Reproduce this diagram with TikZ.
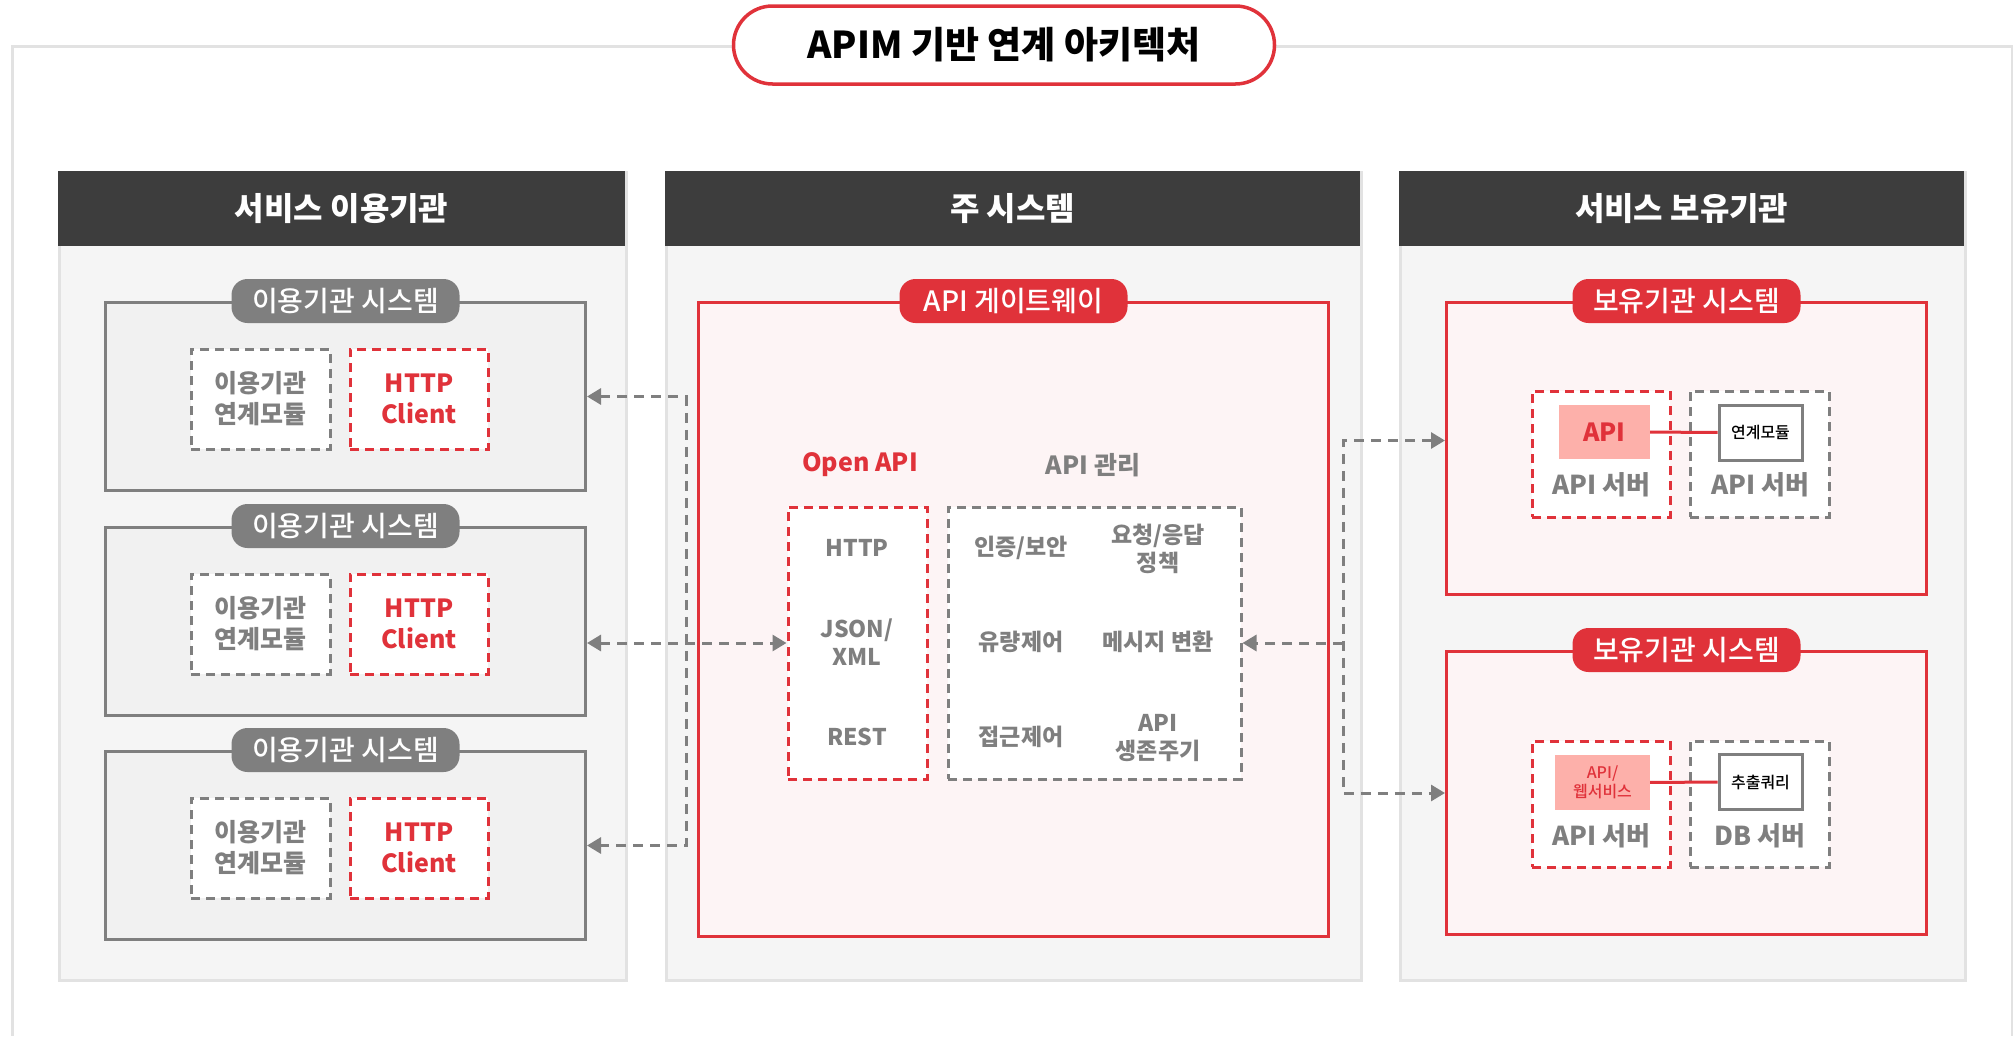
\documentclass[tikz,border=0pt]{standalone}
\usepackage{fontspec}
\setmainfont{Noto Sans CJK KR}
\newfontfamily\medfont{Noto Sans CJK KR Medium}
\usetikzlibrary{arrows.meta}

\definecolor{apired}{HTML}{E0323A}
\definecolor{apigray}{HTML}{7F7F7F}
\definecolor{headdark}{HTML}{3D3D3D}
\definecolor{colbg}{HTML}{F5F5F5}
\definecolor{colline}{HTML}{E2E2E2}
\definecolor{sysbg}{HTML}{F1F1F1}
\definecolor{pinkbg}{HTML}{FDF4F5}
\definecolor{apipink}{HTML}{FDB0AA}

\tikzset{
  colbody/.style={fill=colbg, draw=colline, line width=2.5, anchor=north west, minimum height=808, inner sep=0},
  colhead/.style={fill=headdark, text=white, anchor=north west, inner sep=0, minimum height=75,
    font=\bfseries\fontsize{32}{36}\selectfont},
  titlepill/.style={draw=apired, line width=3.5, fill=white, rounded corners=39, minimum width=541,
    minimum height=78, font=\bfseries\fontsize{37}{42}\selectfont},
  usersys/.style={draw=apigray, fill=sysbg, line width=3, anchor=north west, minimum width=480, minimum height=188},
  holdsys/.style={draw=apired, fill=pinkbg, line width=3, anchor=north west, minimum width=480},
  graypill/.style={fill=apigray, text=white, rounded corners=16, minimum width=228, minimum height=44,
    inner sep=0, font=\medfont\fontsize{28}{30}\selectfont},
  redpill/.style={graypill, fill=apired},
  graydash/.style={draw=apigray, fill=white, line width=3, dash pattern=on 9pt off 6pt, minimum height=100,
    align=center, text=apigray, font=\bfseries\fontsize{25}{31}\selectfont},
  reddash/.style={graydash, draw=apired, text=apired},
  itemtext/.style={align=center, text=apigray, font=\bfseries\fontsize{23}{28}\selectfont},
  grouplabel/.style={font=\bfseries\fontsize{25}{30}\selectfont},
  srvtext/.style={text=apigray, font=\bfseries\fontsize{26}{30}\selectfont},
  pinkbox/.style={fill=apipink, text=apired, inner sep=0, align=center},
  modbox/.style={draw=apigray, fill=white, line width=3, minimum width=83, minimum height=55, inner sep=0,
    font=\medfont\fontsize{16}{18}\selectfont},
  link/.style={draw=apigray, line width=3, dash pattern=on 10pt off 7pt},
  redline/.style={draw=apired, line width=3}
}

\begin{document}
\begin{tikzpicture}[x=1pt, y=-1pt, >={Triangle[length=14pt, width=16pt]}]
	\useasboundingbox (0,0) rectangle (2013,1036);

	% outer frame and title
	\draw[colline, line width=3] (12,1036) -- (12,46) -- (2013,46);
	\draw[colline, line width=2] (2012,46) -- (2012,1036);
	\node[titlepill] (title) at (1004,45) {APIM 기반 연계 아키텍처};

	% the three columns
	\node[colbody, minimum width=567] (ubody) at (58,171) {};
	\node[colhead, minimum width=567] (uhead) at (58,171) {서비스 이용기관};
	\node[colbody, minimum width=695] (mbody) at (665,171) {};
	\node[colhead, minimum width=695] (mhead) at (665,171) {주 시스템};
	\node[colbody, minimum width=565] (hbody) at (1399,171) {};
	\node[colhead, minimum width=565] (hhead) at (1399,171) {서비스 보유기관};

	% user systems
	\foreach \i/\ty in {1/301,2/526,3/750}{
		\node[usersys] (usys\i) at (104,\ty) {};
		\node[graypill] (upill\i) at (usys\i.north) {이용기관 시스템};
		\node[graydash, minimum width=139] (umod\i) at (260.5,\ty+98) {이용기관\\연계모듈};
		\node[reddash, minimum width=138] (uhttp\i) at (419,\ty+98) {HTTP\\Client};
	}

	% API gateway
	\node[draw=apired, fill=pinkbg, line width=3, anchor=north west, minimum width=630, minimum height=634] (gate) at (697,301) {};
	\node[redpill] (gpill) at (gate.north) {API 게이트웨이};
	\node[grouplabel, text=apired] (oapilabel) at (860,465) {Open API};
	\node[grouplabel, text=apigray] (mgmtlabel) at (1093,465) {API 관리};
	\node[reddash, minimum width=139, minimum height=272] (oapi) at (857.5,643) {};
	\node[graydash, minimum width=293, minimum height=272] (mgmt) at (1094.5,643) {};

	\node[itemtext] (ohttp) at (857,548) {HTTP};
	\node[itemtext] (ojson) at (857,642) {JSON/\\XML};
	\node[itemtext] (orest) at (857,737) {REST};
	\node[itemtext] (mauth) at (1021,548) {인증/보안};
	\node[itemtext] (mpol) at (1158,549) {요청/응답\\정책};
	\node[itemtext] (mrate) at (1021,642) {유량제어};
	\node[itemtext] (mconv) at (1158,642) {메시지 변환};
	\node[itemtext] (macc) at (1021,737) {접근제어};
	\node[itemtext] (mlife) at (1158,738) {API\\생존주기};

	% holder systems
	\node[holdsys, minimum height=292] (hsys1) at (1445,301) {};
	\node[redpill] (hpill1) at (hsys1.north) {보유기관 시스템};
	\node[reddash, minimum width=138, minimum height=126] (hsrv1) at (1601,454) {};
	\node[graydash, minimum width=139, minimum height=126] (hmod1) at (1759.5,454) {};
	\node[pinkbox, minimum width=91, minimum height=54, font=\bfseries\fontsize{25}{28}\selectfont] (hapi1) at (1604.5,432) {API};
	\node[modbox] (hlink1) at (1760.5,432.5) {연계모듈};
	\draw[redline] (hapi1) -- (hlink1);
	\node[srvtext] (hsrvlbl1) at (1601,485) {API 서버};
	\node[srvtext] (hmodlbl1) at (1760,485) {API 서버};

	\node[holdsys, minimum height=283] (hsys2) at (1445,650) {};
	\node[redpill] (hpill2) at (hsys2.north) {보유기관 시스템};
	\node[reddash, minimum width=138, minimum height=126] (hsrv2) at (1601,804) {};
	\node[graydash, minimum width=139, minimum height=126] (hmod2) at (1759.5,804) {};
	\node[pinkbox, minimum width=95, minimum height=55, font=\medfont\fontsize{16}{19}\selectfont] (hapi2) at (1602.5,782.5) {API/\\웹서비스};
	\node[modbox] (hquery2) at (1760.5,782) {추출쿼리};
	\draw[redline] (hapi2) -- (hquery2);
	\node[srvtext] (hsrvlbl2) at (1601,836) {API 서버};
	\node[srvtext] (hdblbl2) at (1760,836) {DB 서버};

	% dashed links
	\coordinate (lbus) at (686,0);
	\coordinate (rbus) at (1343,0);
	\draw[link, <->] (usys1.east) -- (usys1.east -| lbus) -- (usys3.east -| lbus) -- (usys3.east);
	\draw[link, <->] (usys2.east |- oapi.west) -- (oapi.west);
	\draw[link, ->] (rbus |- mgmt.east) -- (mgmt.east);
	\draw[link, <->] ([yshift=8]hsys1.west) -| (rbus |- hsys2.west) -- (hsys2.west);
\end{tikzpicture}
\end{document}
